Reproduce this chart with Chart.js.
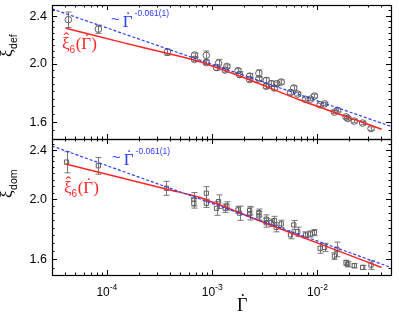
<!DOCTYPE html>
<html>
<head>
<meta charset="utf-8">
<script src="https://cdn.jsdelivr.net/npm/chart.js@4.4.0/dist/chart.umd.min.js"></script>
<style>
html, body { margin: 0; padding: 0; background: #fff; }
#wrap { position: relative; width: 399px; height: 313px; }
#wrap canvas { position: absolute; left: 0; top: 0; }
</style>
</head>
<body>
<div id="wrap">
  <canvas id="defChart" width="399" height="313"></canvas>
  <canvas id="domChart" width="399" height="313"></canvas>
</div>
<script>
// shear rate (x) and correlation lengths
const gammaDef = [4.3e-5, 8.3e-5, 3.76e-4, 6.8e-4, 6.8e-4, 8.8e-4, 8.8e-4, 1.10e-3, 1.15e-3, 1.33e-3,
    1.38e-3, 1.76e-3, 1.82e-3, 2.27e-3, 2.27e-3, 2.78e-3, 2.78e-3, 3.27e-3, 3.27e-3, 3.64e-3,
    3.91e-3, 4.11e-3, 4.53e-3, 5.55e-3, 5.96e-3, 6.50e-3, 7.69e-3, 8.58e-3, 9.37e-3, 1.06e-2,
    1.17e-2, 1.45e-2, 1.56e-2, 1.87e-2, 1.94e-2, 2.24e-2, 2.69e-2, 3.23e-2];
const xiDef = [2.364, 2.280, 2.089, 2.066, 2.032, 2.063, 2.007, 1.970, 2.002, 1.951,
    1.978, 1.946, 1.918, 1.906, 1.882, 1.927, 1.887, 1.875, 1.834, 1.852,
    1.822, 1.852, 1.864, 1.791, 1.822, 1.780, 1.745, 1.746, 1.767, 1.709,
    1.715, 1.662, 1.673, 1.632, 1.622, 1.606, 1.594, 1.561];
const errDef = [0.07, 0.036, 0.025, 0.015, 0.015, 0.035, 0.015, 0.02, 0.03, 0.015,
    0.012, 0.015, 0.02, 0.02, 0.015, 0.025, 0.012, 0.02, 0.015, 0.02,
    0.015, 0.012, 0.015, 0.012, 0.015, 0.012, 0.01, 0.01, 0.012, 0.01,
    0.01, 0.01, 0.01, 0.01, 0.01, 0.01, 0.01, 0.01];

const gammaDom = [4.14e-5, 8.3e-5, 3.68e-4, 6.7e-4, 6.7e-4, 8.8e-4, 8.8e-4, 1.10e-3, 1.15e-3, 1.33e-3,
    1.38e-3, 1.76e-3, 1.82e-3, 2.27e-3, 2.27e-3, 2.78e-3, 2.78e-3, 3.27e-3, 3.27e-3, 3.64e-3,
    3.91e-3, 4.06e-3, 4.53e-3, 5.55e-3, 5.96e-3, 6.50e-3, 7.69e-3, 8.58e-3, 9.37e-3, 1.06e-2,
    1.17e-2, 1.45e-2, 1.53e-2, 1.87e-2, 1.94e-2, 2.24e-2, 2.69e-2, 3.23e-2];
const xiDom = [2.295, 2.264, 2.083, 2.000, 1.970, 2.045, 1.970, 1.934, 1.982, 1.934,
    1.951, 1.922, 1.899, 1.917, 1.897, 1.903, 1.880, 1.857, 1.833, 1.833,
    1.847, 1.802, 1.825, 1.752, 1.818, 1.773, 1.752, 1.758, 1.767, 1.667,
    1.673, 1.620, 1.661, 1.580, 1.571, 1.563, 1.553, 1.567];
const errDom = [0.09, 0.07, 0.054, 0.05, 0.035, 0.05, 0.03, 0.05, 0.05, 0.03,
    0.03, 0.025, 0.05, 0.03, 0.045, 0.025, 0.03, 0.03, 0.03, 0.025,
    0.03, 0.03, 0.025, 0.025, 0.03, 0.03, 0.02, 0.02, 0.02, 0.03,
    0.025, 0.02, 0.045, 0.015, 0.015, 0.012, 0.012, 0.025];

// red curve xi_6 and blue power law
const curveGamma = [4.06e-5, 1.33e-4, 3.80e-4, 7.66e-4, 2.285e-3, 6.82e-3, 2.035e-2, 4.07e-2];
const curveDef = [2.288, 2.172, 2.078, 2.013, 1.878, 1.740, 1.626, 1.557];
const curveDom = [2.279, 2.167, 2.073, 2.013, 1.872, 1.743, 1.624, 1.553];
const powGamma = [3.01e-5, 5e-2];
const powDef = [2.463, 1.574];
const powDom = [2.436, 1.553];

const yTicks = [1.6, 2.0, 2.4];
const yTickLabels = ['1.6', '2.0', '2.4'];
const xTicks = [1e-4, 1e-3, 1e-2];
const xTickExps = ['-4', '-3', '-2'];

const RED = '#ff2424';
const BLUE = '#2b3cff';
const GREY = '#5e5e5e';
const SANS = '"Liberation Sans", Arial, sans-serif';
const SERIF = '"Liberation Serif", "DejaVu Serif", serif';
const DOT = '\u02d9';
const HAT = '\u02c6';

function pts(xs, ys) {
    return xs.map((x, i) => ({ x: x, y: ys[i] }));
}

// draws text pieces one after another; an accent is centred over its piece
function drawRuns(ctx, x, y, runs) {
    let cx = x;
    runs.forEach(r => {
        ctx.font = r.font;
        const w = ctx.measureText(r.text).width;
        ctx.fillText(r.text, cx, y + (r.dy || 0));
        if (r.accent) {
            const aw = ctx.measureText(r.accent).width;
            ctx.fillText(r.accent, cx + (r.ax || 0) + w / 2 - aw / 2, y + (r.dy || 0) + r.ady);
        }
        cx += w + (r.gap || 0);
    });
}

// error bars under the markers
const errorBars = {
    id: 'errorBars',
    beforeDatasetsDraw(chart) {
        const { ctx, scales: { x, y } } = chart;
        ctx.save();
        ctx.strokeStyle = '#777';
        ctx.lineWidth = 1;
        chart.data.datasets.forEach(ds => {
            if (!ds.errors) return;
            ds.data.forEach((p, i) => {
                const px = Math.round(x.getPixelForValue(p.x)) + 0.5;
                const y1 = y.getPixelForValue(p.y + ds.errors[i]);
                const y2 = y.getPixelForValue(p.y - ds.errors[i]);
                ctx.beginPath();
                ctx.moveTo(px, y1); ctx.lineTo(px, y2);
                ctx.moveTo(px - 3, y1); ctx.lineTo(px + 3, y1);
                ctx.moveTo(px - 3, y2); ctx.lineTo(px + 3, y2);
                ctx.stroke();
            });
        });
        ctx.restore();
    }
};

// box, inward ticks and all the labels
const frame = {
    id: 'frame',
    afterDraw(chart, args, o) {
        const { ctx, chartArea: a, scales: { x, y } } = chart;
        ctx.save();
        ctx.strokeStyle = '#000';
        ctx.lineWidth = 1.2;
        ctx.strokeRect(a.left + 0.5, a.top + 0.5, a.right - a.left, a.bottom - a.top);

        ctx.lineWidth = 1;
        ctx.beginPath();
        for (let e = -5; e <= -2; e++) {
            for (let m = 1; m <= 9; m++) {
                const v = m * Math.pow(10, e);
                if (v < x.min || v > x.max) continue;
                const len = m === 1 ? 5 : 2.5;
                const px = Math.round(x.getPixelForValue(v)) + 0.5;
                ctx.moveTo(px, a.top); ctx.lineTo(px, a.top + len);
                ctx.moveTo(px, a.bottom); ctx.lineTo(px, a.bottom - len);
            }
        }
        for (let k = 30; k <= 50; k++) {
            const v = k / 20;
            if (v < y.min || v > y.max) continue;
            const len = (k % 8 === 0) ? 5 : 2.5;
            const py = Math.round(y.getPixelForValue(v)) + 0.5;
            ctx.moveTo(a.left, py); ctx.lineTo(a.left + len, py);
            ctx.moveTo(a.right, py); ctx.lineTo(a.right - len, py);
        }
        ctx.stroke();

        // y tick labels
        ctx.fillStyle = '#000';
        ctx.font = '12.5px ' + SANS;
        ctx.textAlign = 'right';
        ctx.textBaseline = 'middle';
        yTicks.forEach((v, i) => ctx.fillText(yTickLabels[i], a.left - 5, y.getPixelForValue(v) + 0.5));
        ctx.textAlign = 'left';
        ctx.textBaseline = 'alphabetic';

        // x tick labels and title on the lower panel only
        if (o.showX) {
            xTicks.forEach((v, i) => {
                ctx.font = '12px ' + SANS;
                const w1 = ctx.measureText('10').width;
                ctx.font = '8.5px ' + SANS;
                const w2 = ctx.measureText(xTickExps[i]).width;
                const x0 = x.getPixelForValue(v) - (w1 + w2) / 2;
                drawRuns(ctx, x0, a.bottom + 21, [
                    { text: '10', font: '12px ' + SANS },
                    { text: xTickExps[i], font: '8.5px ' + SANS, dy: -6 }
                ]);
            });
            drawRuns(ctx, 237, 311, [
                { text: '\u0393', font: '18px ' + SERIF, accent: DOT, ady: -4, ax: 0.5 }
            ]);
        }

        // rotated y title
        ctx.save();
        ctx.translate(12, o.titleY);
        ctx.rotate(-Math.PI / 2);
        drawRuns(ctx, 0, 0, [
            { text: '\u03be', font: '17px ' + SERIF, gap: 0.5 },
            { text: o.sub, font: '10.5px ' + SANS, dy: 4.5 }
        ]);
        ctx.restore();

        // red label for xi_6
        ctx.fillStyle = RED;
        drawRuns(ctx, o.redX, o.redY, [
            { text: '\u03be', font: '17px ' + SERIF, accent: HAT, ady: -5, ax: 0.5 },
            { text: '6', font: '10px ' + SANS, dy: 4, gap: 0.5 },
            { text: '(', font: '17px ' + SERIF },
            { text: '\u0393', font: '17px ' + SERIF, accent: DOT, ady: -4, ax: 0.5 },
            { text: ')', font: '17px ' + SERIF }
        ]);

        // blue power-law label
        ctx.fillStyle = BLUE;
        drawRuns(ctx, o.blueX, o.blueY, [
            { text: '~', font: '15px ' + SANS, dy: -3, gap: 3 },
            { text: '\u0393', font: '17px ' + SERIF, accent: DOT, ady: -4, ax: 0.5, gap: 2 },
            { text: '-0.061(1)', font: '8.5px ' + SANS, dy: -11 }
        ]);
        ctx.restore();
    }
};

function makePanel(id, cfg) {
    return new Chart(document.getElementById(id), {
        type: 'scatter',
        data: {
            datasets: [
                {
                    data: pts(powGamma, cfg.pow),
                    showLine: true,
                    borderColor: BLUE,
                    borderWidth: 1.2,
                    borderDash: [3, 2],
                    pointRadius: 0,
                    order: 0
                },
                {
                    data: pts(curveGamma, cfg.curve),
                    showLine: true,
                    borderColor: RED,
                    borderWidth: 1.5,
                    tension: 0.3,
                    pointRadius: 0,
                    order: 1
                },
                {
                    data: pts(cfg.gamma, cfg.xi),
                    errors: cfg.err,
                    pointStyle: cfg.marker,
                    pointRadius: cfg.marker === 'rect' ? 3 : 3.3,
                    borderColor: GREY,
                    borderWidth: 1,
                    backgroundColor: 'rgba(255,255,255,0)',
                    order: 2
                }
            ]
        },
        options: {
            responsive: false,
            animation: false,
            events: [],
            layout: { padding: { left: 52, right: 8, top: cfg.top, bottom: 313 - cfg.bottom } },
            scales: {
                x: { type: 'logarithmic', min: 3.01e-5, max: 0.05, display: false },
                y: { type: 'logarithmic', min: cfg.ymin, max: cfg.ymax, display: false }
            },
            plugins: {
                legend: { display: false },
                tooltip: { enabled: false },
                frame: cfg.labels
            }
        },
        plugins: [errorBars, frame]
    });
}

makePanel('defChart', {
    top: 1, bottom: 139, ymin: 1.5, ymax: 2.5,
    gamma: gammaDef, xi: xiDef, err: errDef, marker: 'circle',
    curve: curveDef, pow: powDef,
    labels: { showX: false, sub: 'def', titleY: 57, redX: 62, redY: 49, blueX: 111, blueY: 27 }
});

makePanel('domChart', {
    top: 139, bottom: 275, ymin: 1.51, ymax: 2.5,
    gamma: gammaDom, xi: xiDom, err: errDom, marker: 'rect',
    curve: curveDom, pow: powDom,
    labels: { showX: true, sub: 'dom', titleY: 198, redX: 64, redY: 193, blueX: 112, blueY: 165 }
});
</script>
</body>
</html>
